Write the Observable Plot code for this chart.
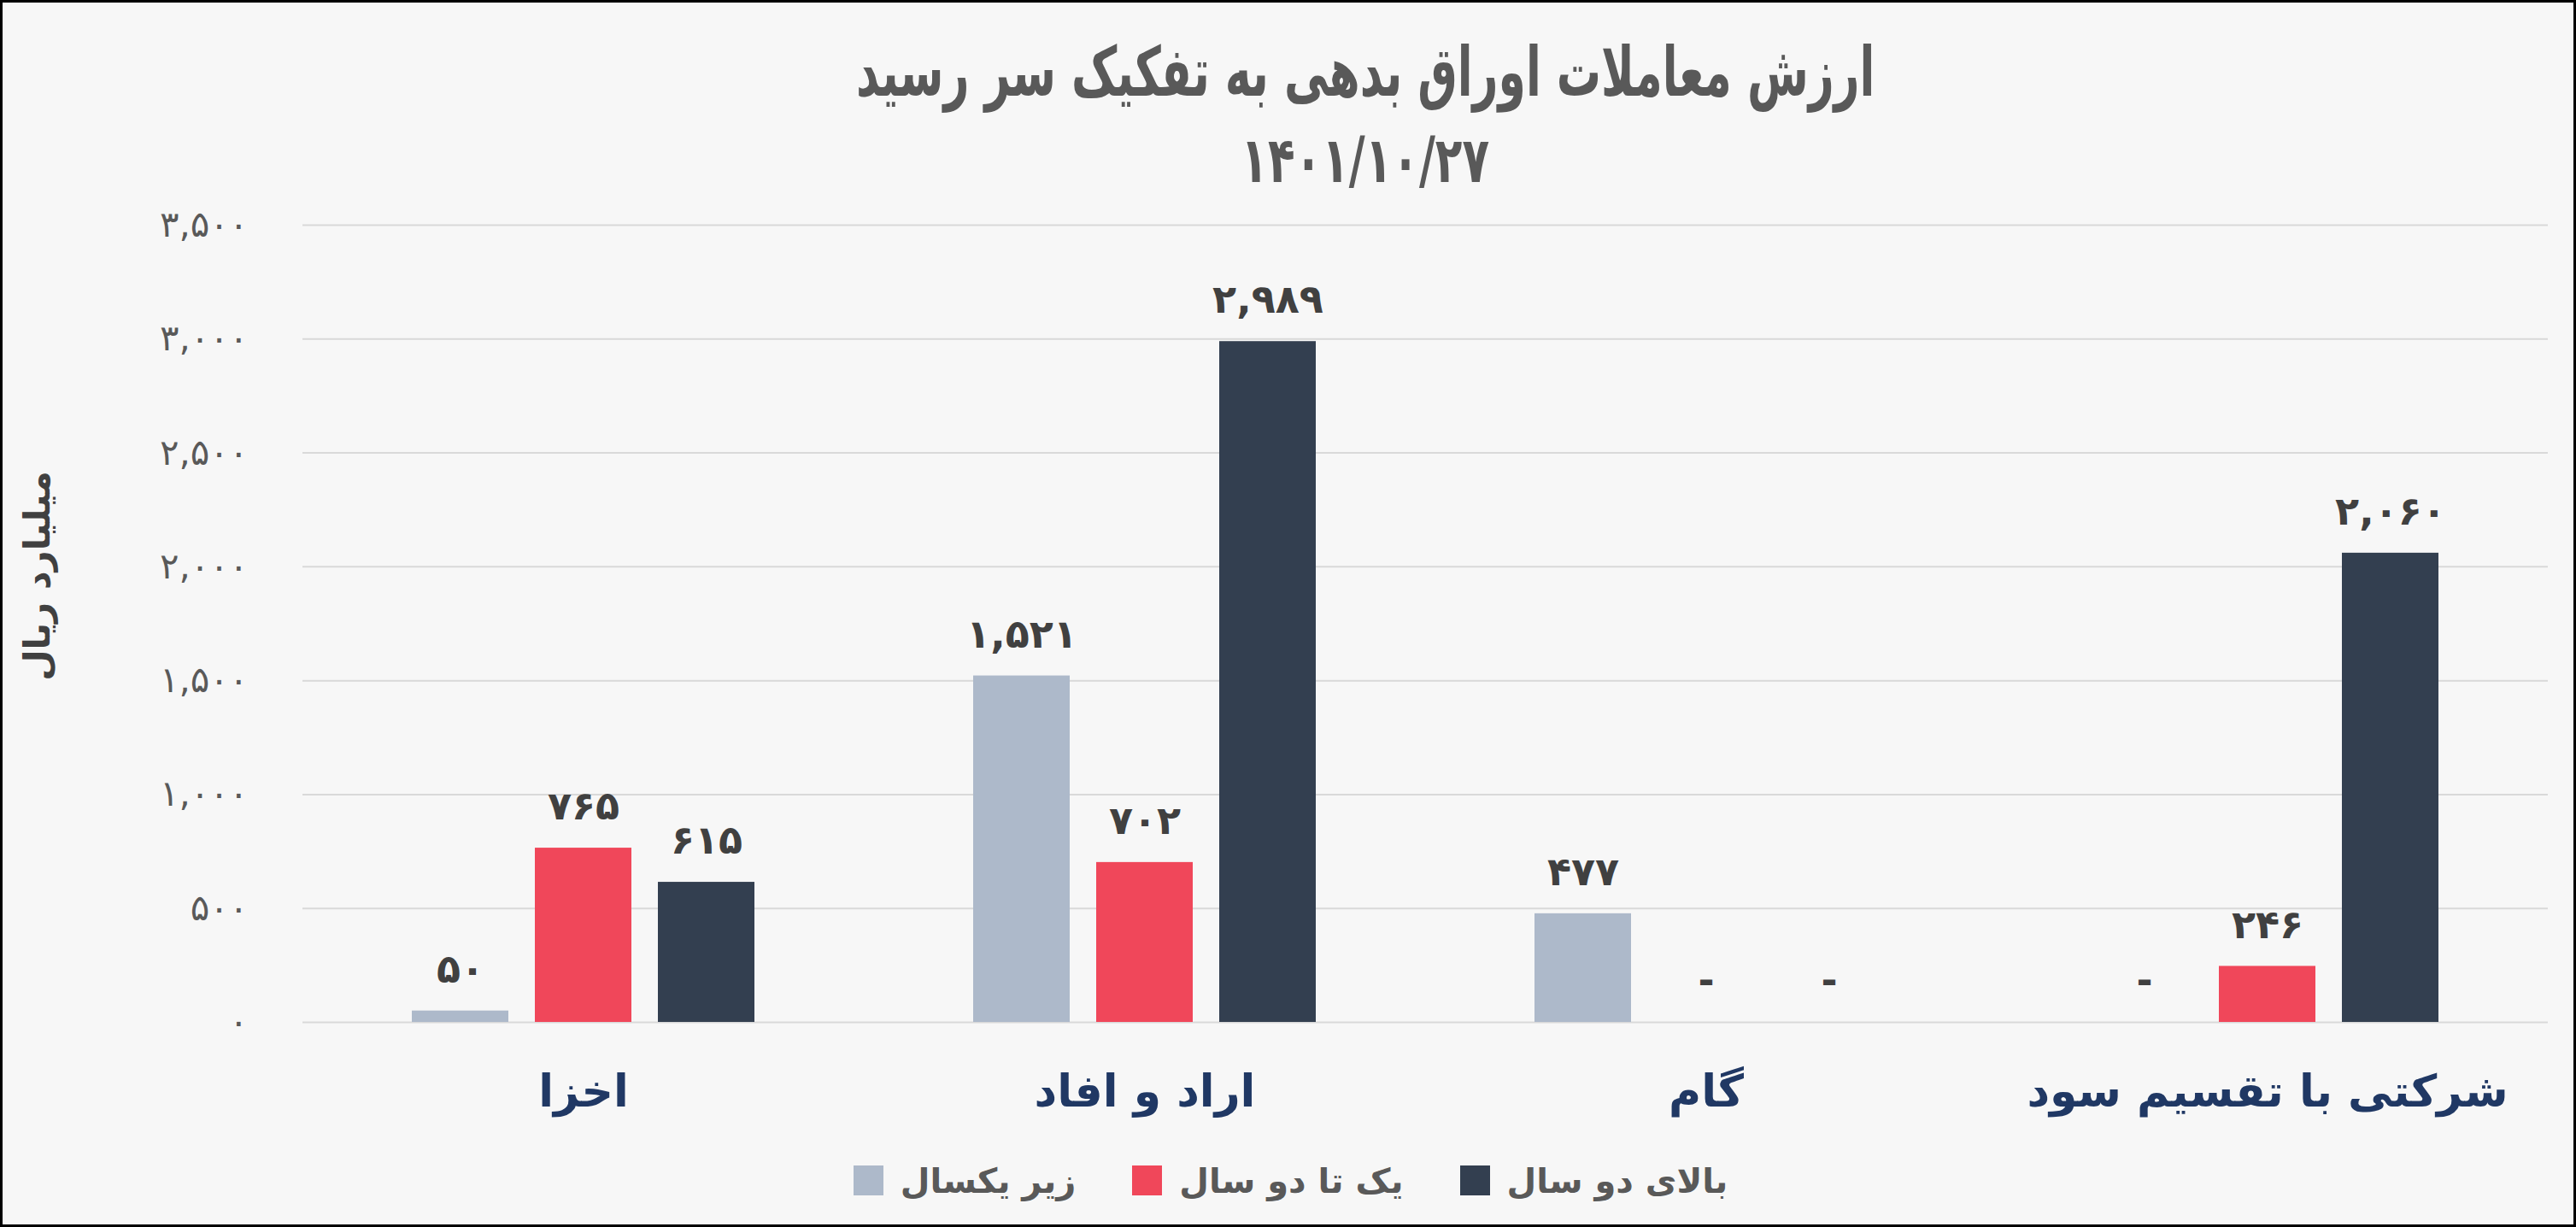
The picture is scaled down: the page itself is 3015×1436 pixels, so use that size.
<!DOCTYPE html>
<html><head><meta charset="utf-8">
<script src="https://cdn.jsdelivr.net/npm/d3@7"></script>
<script src="https://cdn.jsdelivr.net/npm/@observablehq/plot@0.6"></script>
<style>
html,body{margin:0;padding:0;background:#f7f7f7;}
#wrap{width:3015px;height:1436px;box-sizing:border-box;border:3px solid #000;background:#f7f7f7;font-family:"DejaVu Sans",sans-serif;overflow:hidden;}
#title{height:217px;position:relative;color:#595959;font-weight:bold;}
#t1,#t2{position:absolute;left:0;width:3009px;line-height:100px;text-align:center;box-sizing:border-box;padding-left:181px;}
#t1{top:32px;}
#t2{top:134px;}
#t1 span{display:inline-block;font-size:80px;transform:scaleX(0.65);transform-origin:center;}
#t2 span{display:inline-block;font-size:74px;transform:scaleX(0.7);transform-origin:center;}
#chart svg{display:block;}
#legend{height:103px;display:flex;direction:ltr;justify-content:center;align-items:center;gap:66px;color:#595959;font-weight:bold;font-size:40px;padding-left:6px;}
.item{display:flex;align-items:center;gap:20px;}
.sw{width:35px;height:35px;display:inline-block;}
</style>
</head><body>
<div id="wrap">
  <div id="title"><div id="t1" dir="rtl"><span></span></div><div id="t2" dir="ltr"><span></span></div></div>
  <div id="chart"></div>
  <div id="legend"></div>
</div>
<script>
const titleText = "ارزش معاملات اوراق بدهی به تفکیک سر رسید";
const subtitleText = "۱۴۰۱/۱۰/۲۷";
const yLabel = "میلیارد ریال";
const categories = ["اخزا", "اراد و افاد", "گام", "شرکتی با تقسیم سود"];
const seriesNames = ["زیر یکسال", "یک تا دو سال", "بالای دو سال"];
const underOneYear = [50, 1521, 477, 0];
const oneToTwoYears = [765, 702, 0, 246];
const overTwoYears = [615, 2989, 0, 2060];
const seriesColors = ["#adb9ca", "#f0475a", "#333f50"];
const yTicks = [0, 500, 1000, 1500, 2000, 2500, 3000, 3500];

document.querySelector("#t1 span").textContent = titleText;
document.querySelector("#t2 span").textContent = subtitleText;

const table = [];
[underOneYear, oneToTwoYears, overTwoYears].forEach((vals, si) =>
  vals.forEach((v, ci) => table.push({category: categories[ci], series: seriesNames[si], value: v})));

const faDigits = "۰۱۲۳۴۵۶۷۸۹";
const toFa = s => String(s).replace(/\d/g, d => faDigits[+d]);
const fmt = v => toFa(d3.format(",")(v));
const labelText = d => d.value === 0 ? "-" : fmt(d.value);

const chart = Plot.plot({
  width: 3009, height: 1110,
  marginLeft: 349, marginRight: 29, marginTop: 43, marginBottom: 134,
  style: {background: "transparent", fontFamily: "DejaVu Sans"},
  fx: {domain: categories, padding: 0, label: null},
  x: {domain: seriesNames, paddingInner: 0.2138, paddingOuter: 0.875, axis: null},
  y: {domain: [0, 3500]},
  color: {domain: seriesNames, range: seriesColors},
  marks: [
    Plot.gridY(yTicks, {stroke: "#d9d9d9", strokeOpacity: 1, strokeWidth: 2}),
    Plot.axisY(yTicks, {tickFormat: fmt, tickSize: 0, tickPadding: 64, fontSize: 42, color: "#595959", label: null}),
    Plot.axisFx({anchor: "bottom", tickSize: 0, tickPadding: 62, fontSize: 52, fontWeight: "bold", color: "#203864", label: null}),
    Plot.barY(table, {fx: "category", x: "series", y: "value", fill: "series"}),
    Plot.text(table, {fx: "category", x: "series", y: "value", text: labelText, dy: -48, fontSize: 46, fontWeight: "bold", fill: "#404040"}),
    Plot.text([yLabel], {fx: () => categories[0], frameAnchor: "left", textAnchor: "middle", rotate: -90, dx: -310, dy: -56, fontSize: 42, fontWeight: "bold", fill: "#404040"})
  ]
});
document.getElementById("chart").appendChild(chart);

const legend = document.getElementById("legend");
seriesNames.forEach((name, i) => {
  const item = document.createElement("div");
  item.className = "item";
  const sw = document.createElement("span");
  sw.className = "sw";
  sw.style.background = seriesColors[i];
  const label = document.createElement("span");
  label.dir = "rtl";
  label.textContent = name;
  item.appendChild(sw);
  item.appendChild(label);
  legend.appendChild(item);
});
</script>
</body></html>
